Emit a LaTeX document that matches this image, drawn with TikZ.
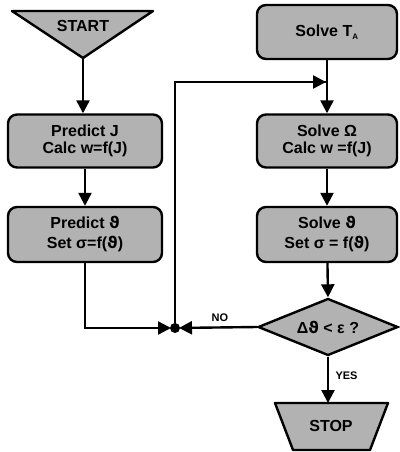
\documentclass[tikz,border=0pt]{standalone}
\usepackage{fontspec}
\setmainfont{Liberation Sans}
\newfontfamily\gk{DejaVu Sans}
\usetikzlibrary{shapes.geometric,arrows.meta,calc}
\begin{document}
\begin{tikzpicture}[x=1pt,y=-1pt,
  font=\bfseries\fontsize{16}{18}\selectfont,
  shade/.style={fill=black!30,draw=black,line width=2.4pt},
  box/.style={shade,rounded corners=9pt,minimum width=140pt,minimum height=53pt,align=center,inner sep=0pt},
  lbox/.style={box,minimum width=154pt},
  conn/.style={line width=2.4pt,-{Triangle[length=13pt,width=13pt]}},
  plain/.style={line width=2.4pt},
  lbl/.style={font=\bfseries\fontsize{11}{12}\selectfont}]
\useasboundingbox (0,0) rectangle (399,452);
% START
\draw[shade,line join=round] (12,11) -- (153,11) -- (83,58) -- cycle;
\node (start) at (83,26) {START};
\coordinate (startapex) at (83,58);
% left column
\node[lbox] (p1) at (85,141) {Predict J\\[-1pt]Calc w=f(J)};
\node[lbox,minimum height=55pt] (p2) at (85,234.5) {Predict {\gk ϑ}\\[2pt]Set σ=f({\gk ϑ})};
% right column
\node[box,minimum height=54pt] (s1) at (327,32) {Solve T$_{\scriptscriptstyle\mathbf{A}}$};
\node[box] (s2) at (327,141) {Solve Ω\\[-1pt]Calc w =f(J)};
\node[box,minimum height=55pt] (s3) at (327,234.5) {Solve {\gk ϑ}\\[2pt]Set σ = f({\gk ϑ})};
\node[shade,diamond,aspect=2.45,minimum width=140pt,minimum height=57pt,inner sep=0pt] (dec) at (328,327) {Δ{\gk ϑ} < ε ?};
\draw[shade,line join=round] (275,403) -- (388,403) -- (370,450) -- (293,450) -- cycle;
\node (stop) at (331,426) {STOP};
\coordinate (stoptop) at (328,403);
% junctions
\fill (175,328) circle (5pt);
\coordinate (dot) at (175,328);
\coordinate (join) at (327,82);
% connectors
\draw[conn] (startapex) -- (startapex |- p1.north);
\draw[conn] (p1) -- (p2);
\draw[conn,shorten >=4pt] (p2.south) |- (dot);
\draw[plain] (dot) |- (join);
\draw[conn,shorten >=1pt] (dot |- join) -- (join);
\draw[conn] (s1) -- (s2);
\draw[conn] (s2) -- (s3);
\draw[conn] (s3) -- (dec.north);
\draw[conn,shorten >=4pt] (dec.west) -- node[lbl,above=1pt,pos=0.45] {NO} (dot);
\draw[conn] (dec.south) -- node[lbl,right=3pt,pos=0.4] {YES} (stoptop);
\end{tikzpicture}
\end{document}
